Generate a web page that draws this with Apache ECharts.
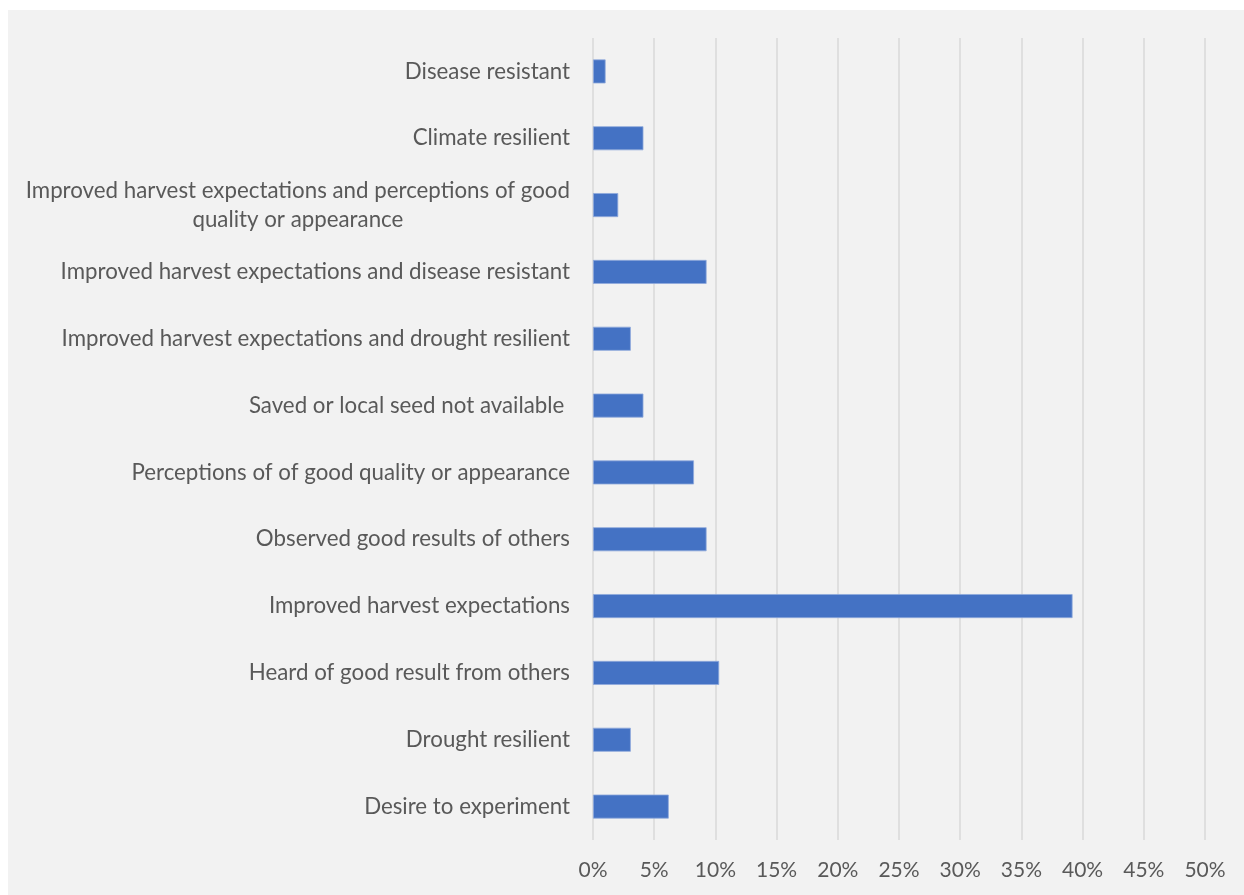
<!DOCTYPE html>
<html>
<head>
<meta charset="utf-8">
<script src="https://cdn.jsdelivr.net/npm/echarts@6/dist/echarts.min.js"></script>
<style>
  html, body { margin: 0; padding: 0; background: #ffffff; }
  #chart { position: absolute; left: 8px; top: 10px; width: 1236px; height: 885px; }
</style>
</head>
<body>
<div id="chart"></div>
<script>
// Reasons given for adopting the variety, share of respondents (%)
const categories = [
  'Disease resistant',
  'Climate resilient',
  'Improved harvest expectations and perceptions of good quality or appearance',
  'Improved harvest expectations and disease resistant',
  'Improved harvest expectations and drought resilient',
  'Saved or local seed not available ',
  'Perceptions of of good quality or appearance',
  'Observed good results of others',
  'Improved harvest expectations',
  'Heard of good result from others',
  'Drought resilient',
  'Desire to experiment'
];
const shares = [1.03, 4.12, 2.06, 9.28, 3.09, 4.12, 8.25, 9.28, 39.18, 10.31, 3.09, 6.19];
const percentTicks = [0, 5, 10, 15, 20, 25, 30, 35, 40, 45, 50];

const FONT = 'Lato';
const TEXT_COLOR = '#595959';
const LABEL_SIZE = 22.3;

// Break long category names into lines of at most maxChars characters
function wrapLabel(text, maxChars) {
  const words = text.split(' ');
  const lines = [];
  let cur = '';
  words.forEach(w => {
    const next = cur ? cur + ' ' + w : w;
    if (next.length > maxChars && cur) { lines.push(cur); cur = w; }
    else { cur = next; }
  });
  if (cur) lines.push(cur);
  return lines;
}

const chart = echarts.init(document.getElementById('chart'));
chart.setOption({
  backgroundColor: '#f2f2f2',
  animation: false,
  grid: { left: 585, right: 39, top: 28, bottom: 55, containLabel: false },
  xAxis: {
    type: 'value',
    min: percentTicks[0],
    max: percentTicks[percentTicks.length - 1],
    interval: percentTicks[1] - percentTicks[0],
    axisLine: { show: false },
    axisTick: { show: false },
    splitLine: { show: true, lineStyle: { color: '#d9d9d9', width: 1.5 } },
    axisLabel: {
      formatter: v => v + '%',
      fontFamily: FONT,
      fontSize: 21,
      color: TEXT_COLOR,
      margin: 20
    }
  },
  yAxis: {
    type: 'category',
    inverse: true,
    data: categories,
    axisLine: { show: false },
    axisTick: { show: false },
    splitLine: { show: false },
    axisLabel: {
      fontFamily: FONT,
      fontSize: LABEL_SIZE,
      color: TEXT_COLOR,
      margin: 23,
      interval: 0,
      lineHeight: 29,
      formatter: v => wrapLabel(v, 53).map(l => '{c|' + l + '}').join('\n'),
      rich: {
        c: { fontFamily: FONT, fontSize: LABEL_SIZE, color: TEXT_COLOR, lineHeight: 29, align: 'center' }
      }
    }
  },
  series: [{
    type: 'bar',
    data: shares,
    barWidth: 24,
    itemStyle: { color: '#4472c4', borderColor: '#8faadc', borderWidth: 0.8 }
  }]
});
</script>
</body>
</html>
